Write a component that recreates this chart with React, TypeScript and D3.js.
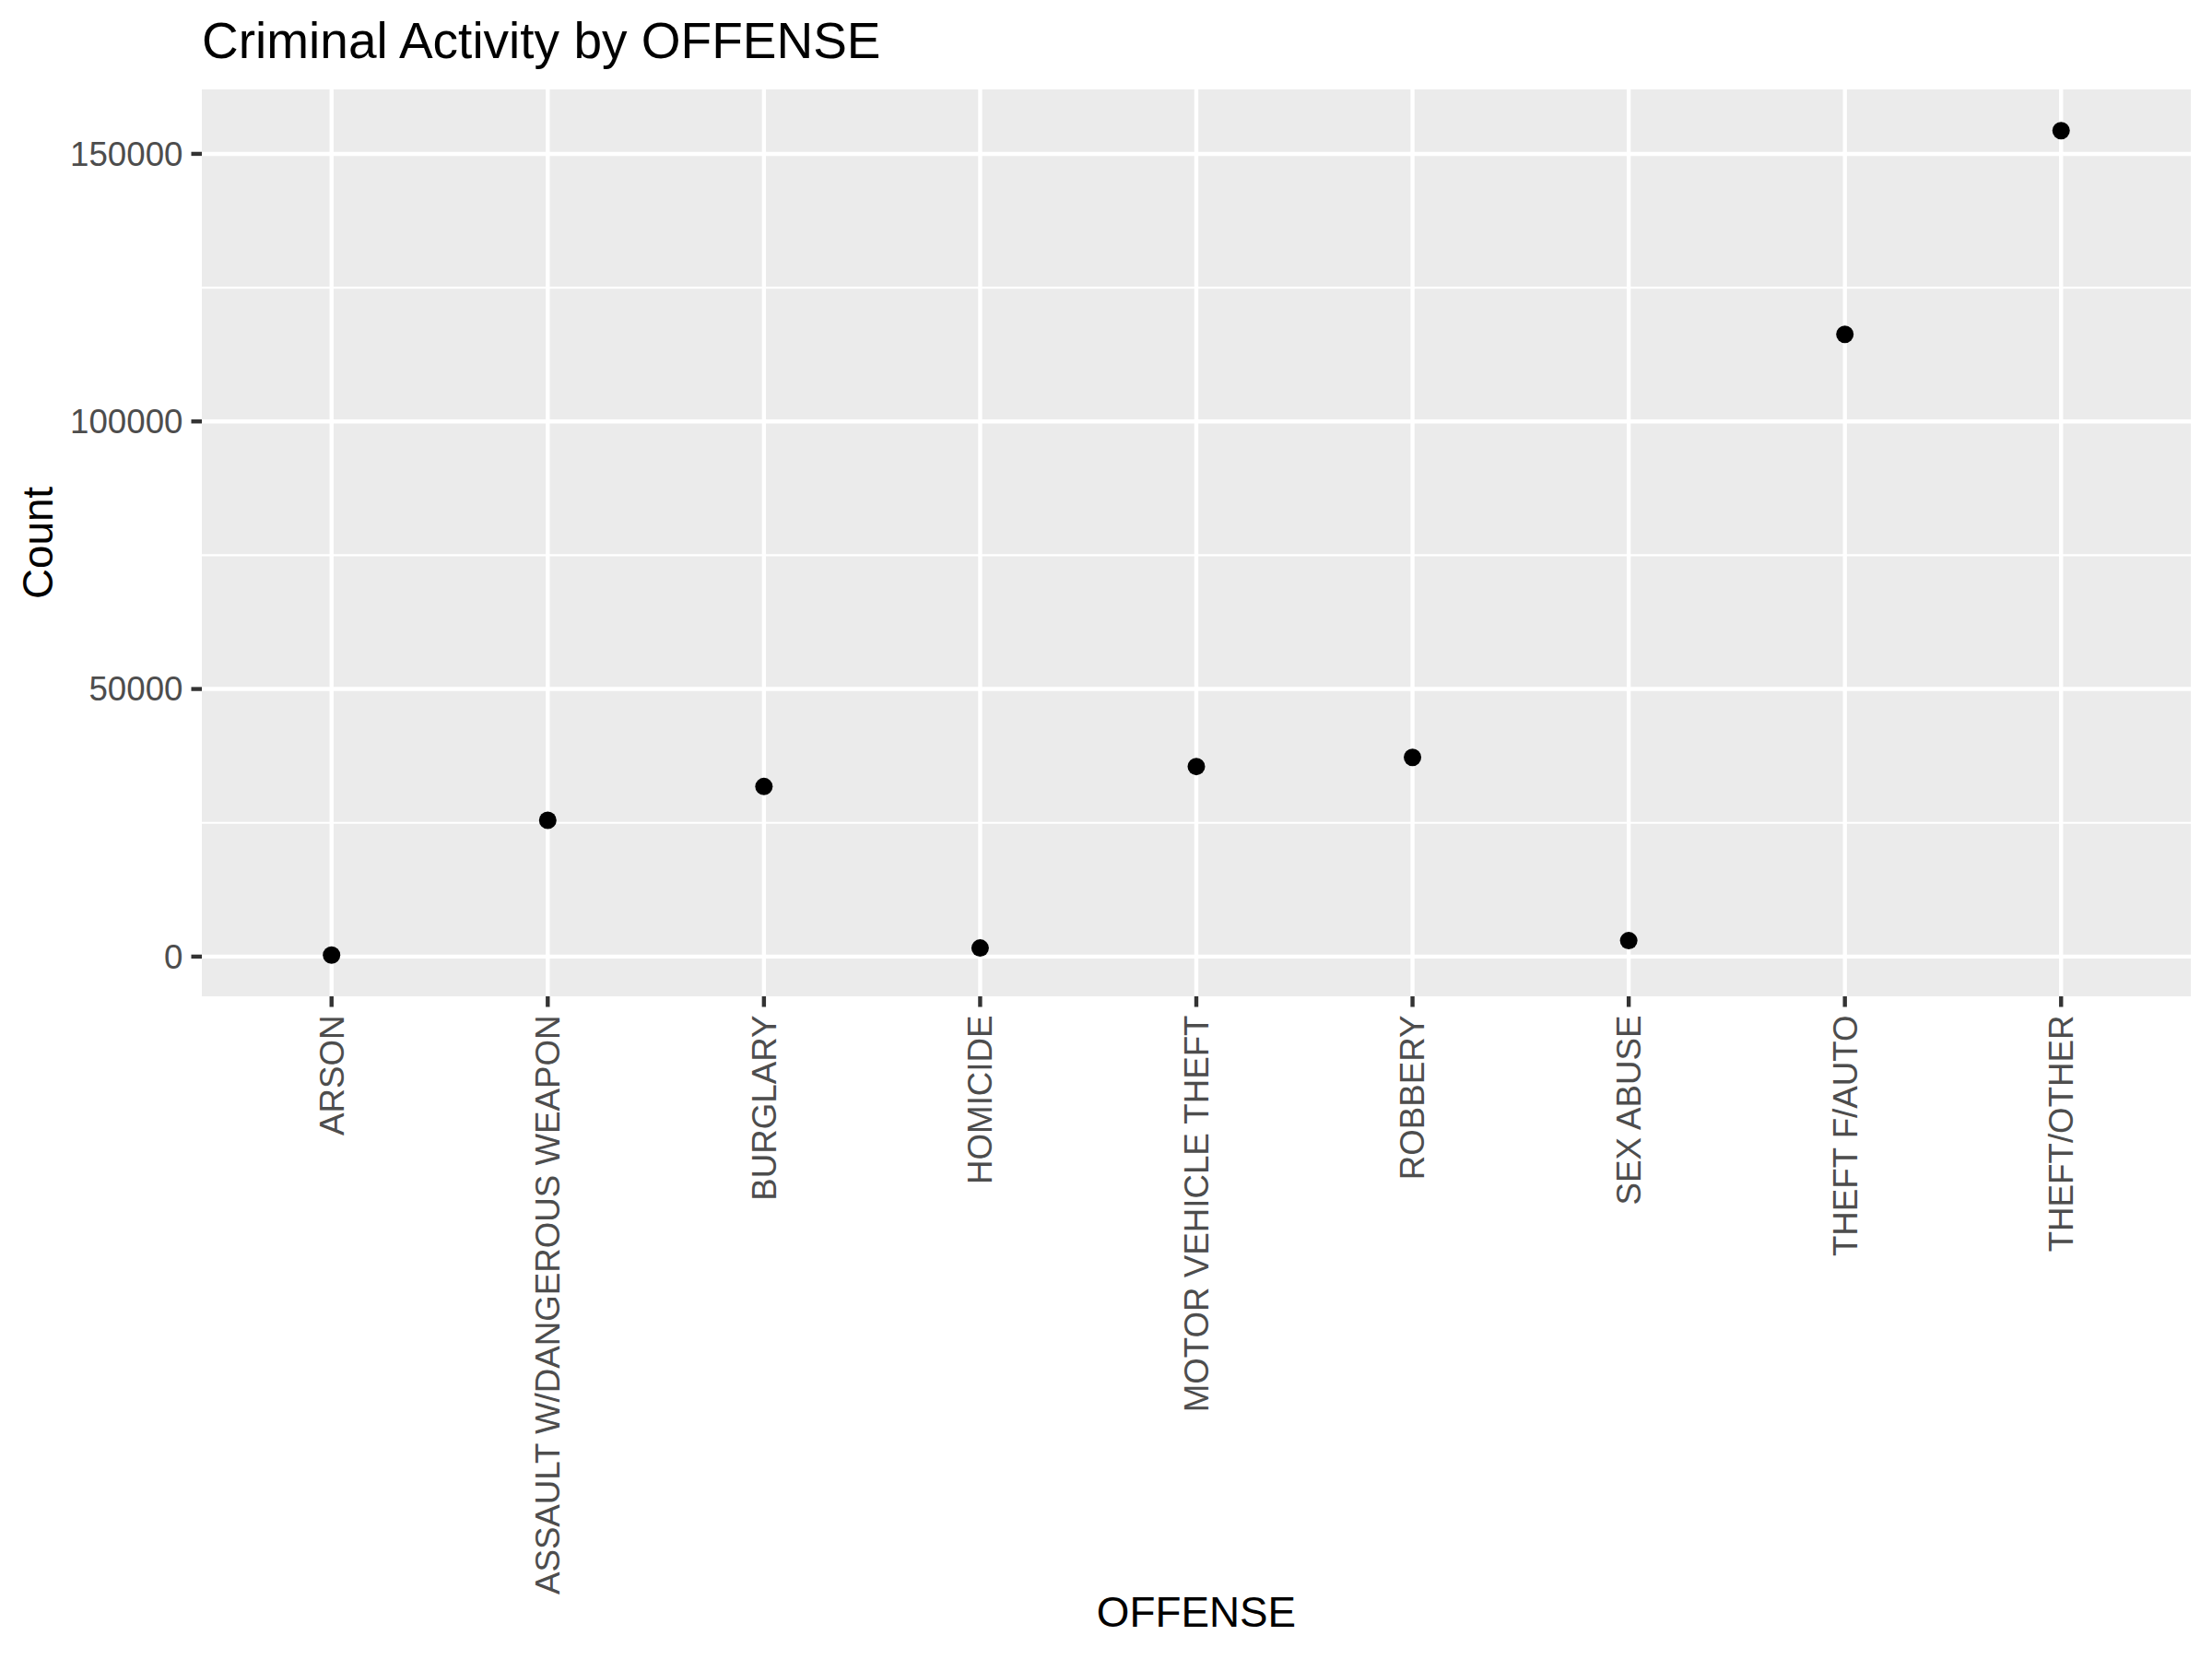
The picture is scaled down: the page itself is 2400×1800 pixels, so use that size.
import React from "react";
import * as d3 from "d3";

const categories = [
  "ARSON",
  "ASSAULT W/DANGEROUS WEAPON",
  "BURGLARY",
  "HOMICIDE",
  "MOTOR VEHICLE THEFT",
  "ROBBERY",
  "SEX ABUSE",
  "THEFT F/AUTO",
  "THEFT/OTHER",
];
const counts = [280, 25460, 31780, 1600, 35520, 37240, 2980, 116260, 154340];
const yTicks = [0, 50000, 100000, 150000];
const yMinor = [25000, 75000, 125000];

const W = 2400;
const H = 1800;
const M = { left: 219, right: 2377, top: 97, bottom: 1081 };
const FONT = "'Liberation Sans', Arial, Helvetica, sans-serif";

export default function App() {
  const x = d3
    .scalePoint<string>()
    .domain(categories)
    .range([M.left, M.right])
    .padding(0.6);
  const ymin = d3.min(counts)!;
  const ymax = d3.max(counts)!;
  const pad = (ymax - ymin) * 0.05;
  const y = d3
    .scaleLinear()
    .domain([ymin - pad, ymax + pad])
    .range([M.bottom, M.top]);

  const major = 4.4;
  const minor = 2.2;
  const tickLen = 11.5;

  return (
    <svg
      width={W}
      height={H}
      style={{ position: "absolute", left: 0, top: 0, background: "#fff" }}
      fontFamily={FONT}
    >
      <rect x={0} y={0} width={W} height={H} fill="#fff" />
      <rect
        x={M.left}
        y={M.top}
        width={M.right - M.left}
        height={M.bottom - M.top}
        fill="#EBEBEB"
      />
      {yMinor.map((v) => (
        <line
          key={"mi" + v}
          x1={M.left}
          x2={M.right}
          y1={y(v)}
          y2={y(v)}
          stroke="#fff"
          strokeWidth={minor}
        />
      ))}
      {yTicks.map((v) => (
        <line
          key={"ma" + v}
          x1={M.left}
          x2={M.right}
          y1={y(v)}
          y2={y(v)}
          stroke="#fff"
          strokeWidth={major}
        />
      ))}
      {categories.map((c) => (
        <line
          key={"vx" + c}
          x1={x(c)}
          x2={x(c)}
          y1={M.top}
          y2={M.bottom}
          stroke="#fff"
          strokeWidth={major}
        />
      ))}
      {categories.map((c, i) => (
        <circle key={"pt" + c} cx={x(c)} cy={y(counts[i])} r={9.5} fill="#000" />
      ))}
      {/* y axis ticks + labels */}
      {yTicks.map((v) => (
        <g key={"yt" + v}>
          <line
            x1={M.left - tickLen}
            x2={M.left}
            y1={y(v)}
            y2={y(v)}
            stroke="#333333"
            strokeWidth={major}
          />
          <text
            x={M.left - tickLen - 9}
            y={y(v)}
            dy="0.35em"
            textAnchor="end"
            fontSize={36.7}
            fill="#4D4D4D"
          >
            {v}
          </text>
        </g>
      ))}
      {/* x axis ticks + labels */}
      {categories.map((c) => (
        <g key={"xt" + c}>
          <line
            x1={x(c)}
            x2={x(c)}
            y1={M.bottom}
            y2={M.bottom + tickLen}
            stroke="#333333"
            strokeWidth={major}
          />
          <text
            transform={`translate(${x(c)},${M.bottom + tickLen + 9}) rotate(-90)`}
            dy="0.35em"
            textAnchor="end"
            fontSize={36.7}
            fill="#4D4D4D"
          >
            {c}
          </text>
        </g>
      ))}
      <text
        x={(M.left + M.right) / 2}
        y={1765}
        textAnchor="middle"
        fontSize={45.8}
        fill="#000"
      >
        OFFENSE
      </text>
      <text
        transform={`translate(57,${(M.top + M.bottom) / 2}) rotate(-90)`}
        textAnchor="middle"
        fontSize={45.8}
        fill="#000"
      >
        Count
      </text>
      <text x={219} y={63} fontSize={55} fill="#000">
        Criminal Activity by OFFENSE
      </text>
    </svg>
  );
}
